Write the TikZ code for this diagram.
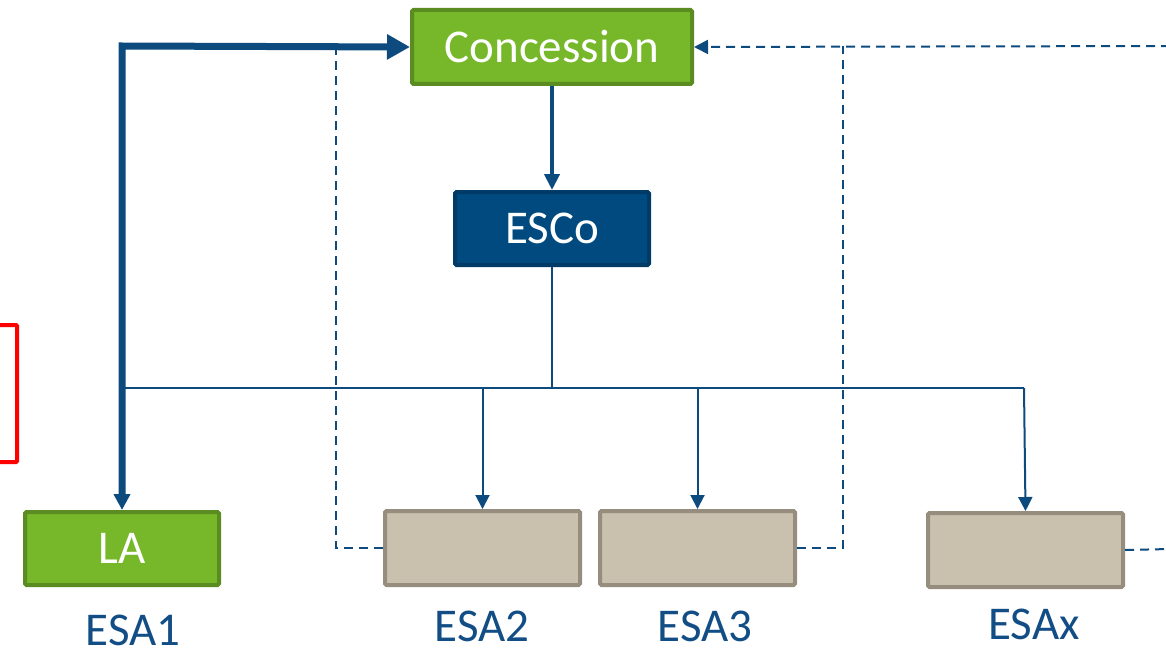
\documentclass[tikz,border=0pt]{standalone}
\usepackage{fontspec}
\setmainfont{Carlito}
\usetikzlibrary{arrows.meta}
\definecolor{dblue}{HTML}{0D4A7E}
\definecolor{lgreen}{HTML}{76B82A}
\definecolor{dgreen}{HTML}{5A8C22}
\definecolor{escofill}{HTML}{004A80}
\definecolor{escoborder}{HTML}{003A66}
\definecolor{esafill}{HTML}{C9C1AE}
\definecolor{esaborder}{HTML}{978D7E}
\definecolor{lblue}{HTML}{124E85}
\begin{document}
\begin{tikzpicture}[x=1pt,y=-1pt,
  txt/.style={font=\fontsize{47}{52}\selectfont},
  greenbox/.style={draw=dgreen,fill=lgreen,line width=4pt,rounded corners=1.5pt,text=white,txt,inner sep=0pt},
  escobox/.style={draw=escoborder,fill=escofill,line width=4pt,rounded corners=1.5pt,text=white,txt,inner sep=0pt},
  esabox/.style={draw=esaborder,fill=esafill,line width=4pt,rounded corners=1.5pt,inner sep=0pt,minimum width=195pt,minimum height=74pt},
  lbl/.style={text=lblue,txt,inner sep=0pt},
  thick arrow/.style={draw=dblue,line width=7pt,-{Triangle[length=23pt,width=24pt]}},
  mid arrow/.style={draw=dblue,line width=4pt,-{Triangle[length=16pt,width=15pt]}},
  thin arrow/.style={draw=dblue,line width=2pt,-{Triangle[length=14pt,width=14pt]}},
  thin line/.style={draw=dblue,line width=2pt},
  dash line/.style={draw=dblue,line width=2pt,dash pattern=on 9pt off 6pt},
]
\useasboundingbox (0,0) rectangle (1166,658);
% red partial rectangle
\begin{scope}
\clip (0,0) rectangle (1166,658);
\draw[red,line width=4pt,rounded corners=1pt] (-20,325) -- (17,325) -- (17,462) -- (-20,462);
\end{scope}
% nodes
\node[greenbox,minimum width=280pt,minimum height=74pt] (conc) at (552,47) {Concession};
\node[escobox,minimum width=194pt,minimum height=73pt] (esco) at (552,228.5) {ESCo};
\node[greenbox,minimum width=194pt,minimum height=73pt] (la) at (122,548.5) {LA};
\node[esabox] (esa2) at (482.5,548) {};
\node[esabox] (esa3) at (697.5,548) {};
\node[esabox] (esax) at (1025.5,550) {};
\node[lbl] (l1) at (133,630) {ESA1};
\node[lbl] (l2) at (482,626) {ESA2};
\node[lbl] (l3) at (705,626) {ESA3};
\node[lbl] (lx) at (1034,624) {ESAx};
% coordinates
\coordinate (corner) at (122,46);
\coordinate (hubL) at (122,388);
\coordinate (hub) at (552,388);
\coordinate (hubR) at (1024,388);
\coordinate (d2) at (336,548);
\coordinate (d2t) at (336,46);
\coordinate (d3) at (843,548);
\coordinate (d3t) at (843,46);
\coordinate (rtop) at (1170,46);
\coordinate (rbot) at (1170,549);
% dashed connectors
\draw[dash line] (esa2.west) -- (d2) -- (d2t);
\draw[dash line] (esa3.east) -- (d3) -- (d3t);
\draw[dash line,-{Triangle[length=14pt,width=14pt]}] (rtop) -- (conc.east);
\draw[dash line] (esax.east) -- (rbot);
% thin tree
\draw[thin line] (esco.south) -- (hub);
\draw[thin line] (hubL) -- (hubR);
\draw[thin arrow] (hubR) -- (esax.north);
\draw[thin arrow] (esa2.north |- hub) -- (esa2.north);
\draw[thin arrow] (esa3.north |- hub) -- (esa3.north);
% thick LA <-> Concession
\draw[thick arrow,{Triangle[length=16pt,width=16pt]}-{Triangle[length=23pt,width=24pt]}] (la.north) -- (corner) -- (conc.west);
% Concession -> ESCo
\draw[mid arrow] (conc.south) -- (esco.north);
\end{tikzpicture}
\end{document}
